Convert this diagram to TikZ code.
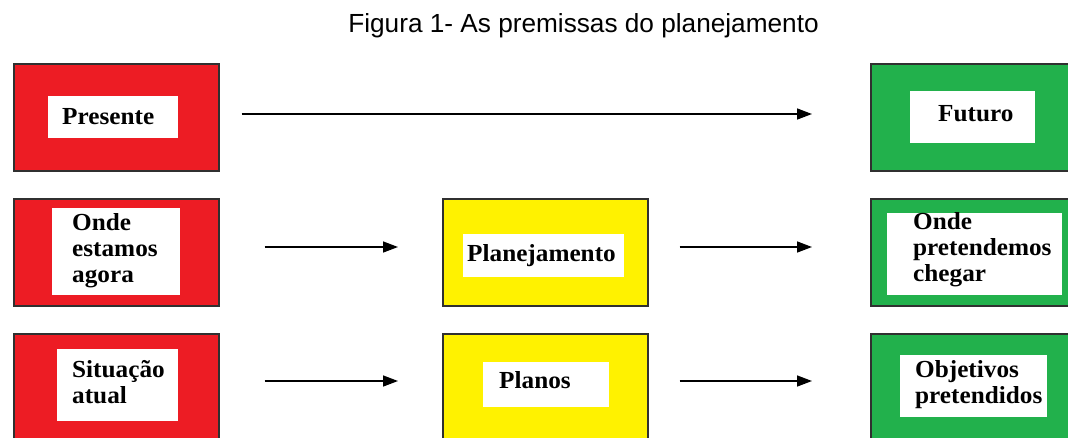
\documentclass[tikz,border=0pt]{standalone}
\usepackage{fontspec}
\setmainfont{Liberation Serif}
\newfontfamily\lblfont[FakeStretch=1.03]{Liberation Serif}
\newfontfamily\titlefont{Liberation Sans}
\usetikzlibrary{arrows.meta}
\definecolor{boxred}{HTML}{ED1C24}
\definecolor{boxyellow}{HTML}{FFF200}
\definecolor{boxgreen}{HTML}{22B14C}
\definecolor{edgegray}{HTML}{303030}
\tikzset{
  outerbox/.style={draw=edgegray, line width=1.6pt, rectangle, inner sep=0pt, anchor=north west},
  redbox/.style={outerbox, fill=boxred},
  yellowbox/.style={outerbox, fill=boxyellow},
  greenbox/.style={outerbox, fill=boxgreen},
  whitebox/.style={fill=white, rectangle, inner sep=0pt, anchor=north west},
  lbl/.style={anchor=base west, inner sep=0pt, align=left, font=\lblfont\fontsize{24.5}{26}\selectfont\bfseries, text=black},
  arr/.style={-{Triangle[length=15pt,width=11pt]}, line width=1.5pt, black},
}
\begin{document}
\begin{tikzpicture}[x=1pt,y=-1pt]
\useasboundingbox (0,0) rectangle (1068,437);
\clip (0,0) rectangle (1068,437);
\fill[white] (0,0) rectangle (1068,437);
% title
\node[anchor=base, inner sep=0pt, font=\titlefont\fontsize{26.2}{28}\selectfont] (title) at (583.5,32) {Figura 1- As premissas do planejamento};
% row 1
\node[redbox, minimum width=205, minimum height=107] (r1) at (13,63) {};
\node[whitebox, minimum width=130, minimum height=42] (w1) at (48,96) {};
\node[lbl] (t1) at (62,124) {Presente};
\node[greenbox, minimum width=220, minimum height=107] (g1) at (870,63) {};
\node[whitebox, minimum width=125, minimum height=52] (wg1) at (910,91) {};
\node[lbl] (tg1) at (938,121) {Futuro};
% row 2
\node[redbox, minimum width=205, minimum height=107] (r2) at (13,198) {};
\node[whitebox, minimum width=128, minimum height=87] (w2) at (52,208) {};
\node[lbl] (t2) at (72,282) {Onde\\estamos\\agora};
\node[yellowbox, minimum width=205, minimum height=107] (y2) at (442,198) {};
\node[whitebox, minimum width=161, minimum height=43] (wy2) at (463,234) {};
\node[lbl] (ty2) at (467,261) {Planejamento};
\node[greenbox, minimum width=220, minimum height=107] (g2) at (870,198) {};
\node[whitebox, minimum width=175, minimum height=82] (wg2) at (887,213) {};
\node[lbl] (tg2) at (913,281) {Onde\\pretendemos\\chegar};
% row 3
\node[redbox, minimum width=205, minimum height=130] (r3) at (13,333) {};
\node[whitebox, minimum width=121, minimum height=72] (w3) at (57,349) {};
\node[lbl] (t3) at (72,403) {Situação\\atual};
\node[yellowbox, minimum width=205, minimum height=130] (y3) at (442,333) {};
\node[whitebox, minimum width=126, minimum height=45] (wy3) at (483,362) {};
\node[lbl] (ty3) at (499,388) {Planos};
\node[greenbox, minimum width=220, minimum height=130] (g3) at (870,333) {};
\node[whitebox, minimum width=147, minimum height=62] (wg3) at (900,355) {};
\node[lbl] (tg3) at (915,403) {Objetivos\\pretendidos};
% arrows
\draw[arr, shorten <=22pt, shorten >=58pt] (r1.east |- 0,114) -- (g1.west |- 0,114);
\draw[arr, shorten <=45pt, shorten >=44pt] (r2.east |- 0,247) -- (y2.west |- 0,247);
\draw[arr, shorten <=31pt, shorten >=58pt] (y2.east |- 0,247) -- (g2.west |- 0,247);
\draw[arr, shorten <=45pt, shorten >=44pt] (r3.east |- 0,381) -- (y3.west |- 0,381);
\draw[arr, shorten <=31pt, shorten >=58pt] (y3.east |- 0,381) -- (g3.west |- 0,381);
\end{tikzpicture}
\end{document}
